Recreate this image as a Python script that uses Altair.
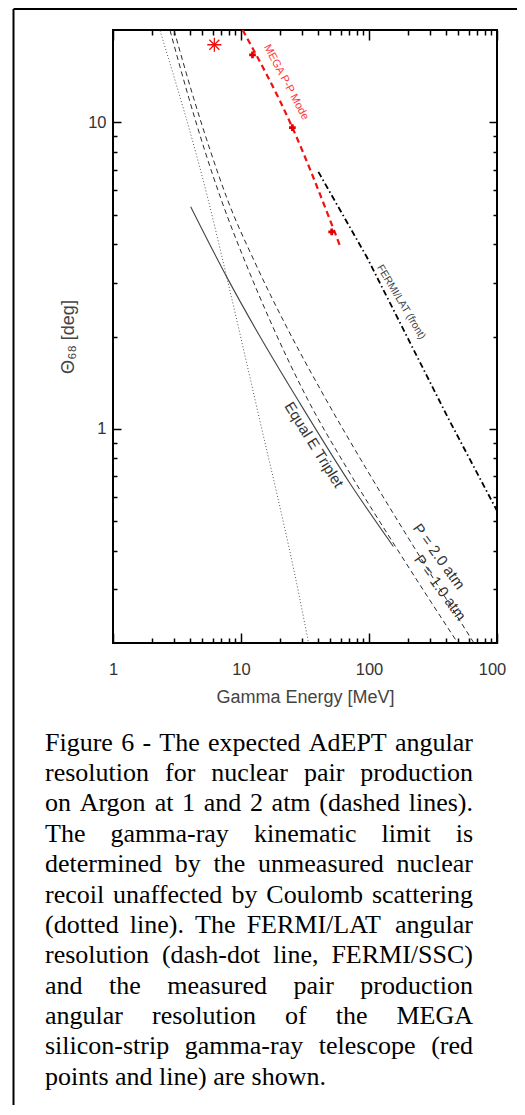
import altair as alt
import pandas as pd

# ---------------- data (E in MeV, Theta68 in deg) ----------------
kin_E = [2.33, 5.55, 7.73, 12.9, 28.9, 33.5]
kin_T = [19.9, 5.57, 3.13, 1.24, 0.277, 0.203]

atm1_E = [2.79, 3.92, 5.20, 7.03, 10.79, 17.06, 33.3, 66.9, 166.4, 489.6]
atm1_T = [19.94, 11.97, 8.11, 5.57, 3.50, 2.23, 1.243, 0.746, 0.404, 0.201]

atm2_E = [3.0, 4.27, 5.74, 7.87, 12.8, 21.7, 46.3, 94.2, 230.4, 655.3]
atm2_T = [19.94, 11.97, 8.11, 5.57, 3.50, 2.23, 1.243, 0.746, 0.404, 0.201]

trip_E = [4.05, 7.73, 14.07, 28.9, 71.1, 155]
trip_T = [5.30, 3.13, 2.00, 1.21, 0.663, 0.413]

fermi_E = [40.2, 95.9, 417, 1000]
fermi_T = [6.89, 3.64, 1.08, 0.54]

mega_line_E = [10.3, 25.2, 49.6, 59.3]
mega_line_T = [20.0, 9.61, 4.80, 3.95]

mega_pts_E = [12.3, 25.2, 51.1]
mega_pts_T = [16.6, 9.61, 4.39]

mega_star_E = [6.19]
mega_star_T = [17.9]

ann_text = ["MEGA P-P Mode", "FERMI/LAT (front)", "Equal E Triplet", "P = 2.0 atm", "P = 1.0 atm"]
ann_E = [22.5, 178, 37.2, 352, 359]
ann_T = [13.5, 2.59, 0.887, 0.383, 0.303]

x_ticks = [1, 2, 3, 4, 5, 6, 7, 8, 9, 10, 20, 30, 40, 50, 60, 70, 80, 90,
           100, 200, 300, 400, 500, 600, 700, 800, 900, 1000]
y_ticks = [0.3, 0.4, 0.5, 0.6, 0.7, 0.8, 0.9, 1, 2, 3, 4, 5, 6, 7, 8, 9, 10]

caption_lines = [
    "Figure 6 - The expected AdEPT angular",
    "resolution for nuclear pair production",
    "on Argon at 1 and 2 atm (dashed lines).",
    "The gamma-ray kinematic limit is",
    "determined by the unmeasured nuclear",
    "recoil unaffected by Coulomb scattering",
    "(dotted line).  The FERMI/LAT angular",
    "resolution (dash-dot line, FERMI/SSC)",
    "and the measured pair production",
    "angular resolution of the MEGA",
    "silicon-strip gamma-ray telescope (red",
    "points and line) are shown.",
]

# ---------------- scales / axes ----------------
xs = alt.Scale(type="log", domain=[1, 1000], nice=False)
ys = alt.Scale(type="log", domain=[0.2, 20], nice=False)

X_MAJOR = "(datum.value == 1 || datum.value == 10 || datum.value == 100 || datum.value == 1000)"
Y_MAJOR = "(datum.value == 1 || datum.value == 10)"

ax_common = dict(grid=False, domain=False, tickColor="black", tickWidth=1.5,
                 labelFont="Liberation Sans", labelFontSize=16.5, labelColor="#333",
                 titleFont="Liberation Sans", titleFontSize=18, titleFontWeight="normal",
                 titleColor="#444")

x_bottom = alt.Axis(orient="bottom", values=x_ticks, format="d",
                    labelExpr=f"{X_MAJOR} ? (datum.value == 1000 ? '100' : datum.label) : ''",
                    labelOffset={"expr": "datum.value == 1000 ? -5 : 0"},
                    tickSize={"expr": f"{X_MAJOR} ? -10 : -5"}, labelPadding=28,
                    labelFlush=False, labelOverlap=False,
                    title="Gamma Energy [MeV]", titlePadding=6, **ax_common)
x_top = alt.Axis(orient="top", values=x_ticks, labels=False,
                 tickSize={"expr": f"{X_MAJOR} ? -10 : -5"}, title=None, **ax_common)
y_left = alt.Axis(orient="left", values=y_ticks, format="~g",
                  labelExpr=f"{Y_MAJOR} ? datum.label : ''",
                  tickSize={"expr": f"{Y_MAJOR} ? -8 : -4"}, labelPadding=15,
                  labelFlush=False, labelOverlap=False,
                  title="Θ₆₈ [deg]", titlePadding=10, **ax_common)
y_right = alt.Axis(orient="right", values=y_ticks, labels=False,
                   tickSize={"expr": f"{Y_MAJOR} ? -8 : -4"}, title=None, **ax_common)


def df(E, T):
    return pd.DataFrame({"E": E, "T": T})


def enc(xaxis=None, yaxis=None):
    return dict(x=alt.X("E:Q", scale=xs, axis=xaxis), y=alt.Y("T:Q", scale=ys, axis=yaxis))


kin = alt.Chart(df(kin_E, kin_T)).mark_line(
    clip=True, color="#555", strokeWidth=1, strokeDash=[1, 2.2], interpolate="monotone"
).encode(**enc(x_bottom, y_left))
atm1 = alt.Chart(df(atm1_E, atm1_T)).mark_line(
    clip=True, color="#2a2a2a", strokeWidth=1, strokeDash=[5, 3.5], interpolate="monotone"
).encode(**enc(x_top, y_right))
atm2 = alt.Chart(df(atm2_E, atm2_T)).mark_line(
    clip=True, color="#2a2a2a", strokeWidth=1, strokeDash=[5, 3.5], interpolate="monotone"
).encode(**enc())
trip = alt.Chart(df(trip_E, trip_T)).mark_line(
    clip=True, color="#444", strokeWidth=1.1, interpolate="monotone").encode(**enc())
fermi = alt.Chart(df(fermi_E, fermi_T)).mark_line(
    clip=True, color="black", strokeWidth=1.8, strokeDash=[6, 3, 1.5, 3]).encode(**enc())
mega_line = alt.Chart(df(mega_line_E, mega_line_T)).mark_line(
    clip=True, color="#f01010", strokeWidth=2.2, strokeDash=[6, 4], interpolate="monotone"
).encode(**enc())
mega_pts = alt.Chart(df(mega_pts_E, mega_pts_T)).mark_point(
    shape="cross", filled=True, color="#e00000", size=45, opacity=1).encode(**enc())
STAR = "M-1,0L1,0M0,-1L0,1M-0.71,-0.71L0.71,0.71M-0.71,0.71L0.71,-0.71"
star = alt.Chart(df(mega_star_E, mega_star_T)).mark_point(
    shape=STAR, filled=False, stroke="#f01010", strokeWidth=1.3, size=200, opacity=1).encode(**enc())

ann_style = [
    dict(angle=62, fontSize=11, color="#ff3b3b"),
    dict(angle=59, fontSize=10.5, color="#444"),
    dict(angle=58, fontSize=15, color="#333"),
    dict(angle=54, fontSize=15, color="#333"),
    dict(angle=54, fontSize=15, color="#333"),
]
labels = []
for i, st in enumerate(ann_style):
    d = pd.DataFrame({"E": [ann_E[i]], "T": [ann_T[i]], "txt": [ann_text[i]]})
    labels.append(alt.Chart(d).mark_text(font="Liberation Sans", align="center",
                                         baseline="middle", **st).encode(text="txt:N", **enc()))

plot = alt.layer(kin, atm1, atm2, trip, fermi, mega_line, mega_pts, star, *labels
                 ).resolve_axis(x="independent", y="independent")

# ---------------- caption (justified, Times metrics) ----------------
TW = {c: 500 for c in "0123456789"}
TW.update({" ": 250, "(": 333, ")": 333, ",": 250, "-": 333, ".": 250, "/": 278,
           "A": 722, "B": 667, "C": 667, "D": 722, "E": 611, "F": 556, "G": 722, "H": 722,
           "I": 333, "J": 389, "K": 722, "L": 611, "M": 889, "N": 722, "O": 722, "P": 556,
           "Q": 722, "R": 667, "S": 556, "T": 611, "U": 722, "V": 722, "W": 944, "X": 722,
           "Y": 722, "Z": 611,
           "a": 444, "b": 500, "c": 444, "d": 500, "e": 444, "f": 333, "g": 500, "h": 500,
           "i": 278, "j": 278, "k": 500, "l": 278, "m": 778, "n": 500, "o": 500, "p": 500,
           "q": 500, "r": 333, "s": 389, "t": 278, "u": 500, "v": 500, "w": 722, "x": 500,
           "y": 500, "z": 444})
CAP_FS = 26
CAP_LEFT, CAP_RIGHT = 45 - 113, 473 - 113
CAP_BASE0, CAP_LH = 750.7 - 30, 30.36


def wwidth(w):
    return sum(TW.get(c, 500) for c in w) * CAP_FS / 1000.0


rows = []
for li, line in enumerate(caption_lines):
    words = line.split()
    widths = [wwidth(w) for w in words]
    if li < len(caption_lines) - 1 and len(words) > 1:
        gap = (CAP_RIGHT - CAP_LEFT - sum(widths)) / (len(words) - 1)
    else:
        gap = TW[" "] * CAP_FS / 1000.0
    xpos = CAP_LEFT
    for w, wd in zip(words, widths):
        rows.append({"px": xpos, "py": CAP_BASE0 + li * CAP_LH, "w": w})
        xpos += wd + gap
cap_df = pd.DataFrame(rows)

caption = alt.Chart(cap_df).mark_text(
    align="left", baseline="alphabetic", font="Liberation Serif", fontSize=CAP_FS, color="black"
).encode(x=alt.X("px:Q", scale=None, axis=None), y=alt.Y("py:Q", scale=None, axis=None), text="w:N")

one = pd.DataFrame({"a": [0]})
border_left = alt.Chart(one).mark_rule(color="black", strokeWidth=2).encode(
    x=alt.value(-99.5), y=alt.value(-21), y2=alt.value(1090))
border_top = alt.Chart(one).mark_rule(color="black", strokeWidth=2).encode(
    x=alt.value(-99.5), x2=alt.value(420), y=alt.value(-21))

cap_layer = alt.layer(caption, border_left, border_top)

chart = alt.layer(plot, cap_layer).resolve_scale(x="independent", y="independent").properties(
    width=384, height=613,
    padding={"left": 105, "top": 22, "right": 20, "bottom": 462},
    autosize=alt.AutoSizeParams(type="none"),
).configure_view(stroke="black", strokeWidth=2)

chart.save("out.html", embed_options={"renderer": "svg", "actions": False})
